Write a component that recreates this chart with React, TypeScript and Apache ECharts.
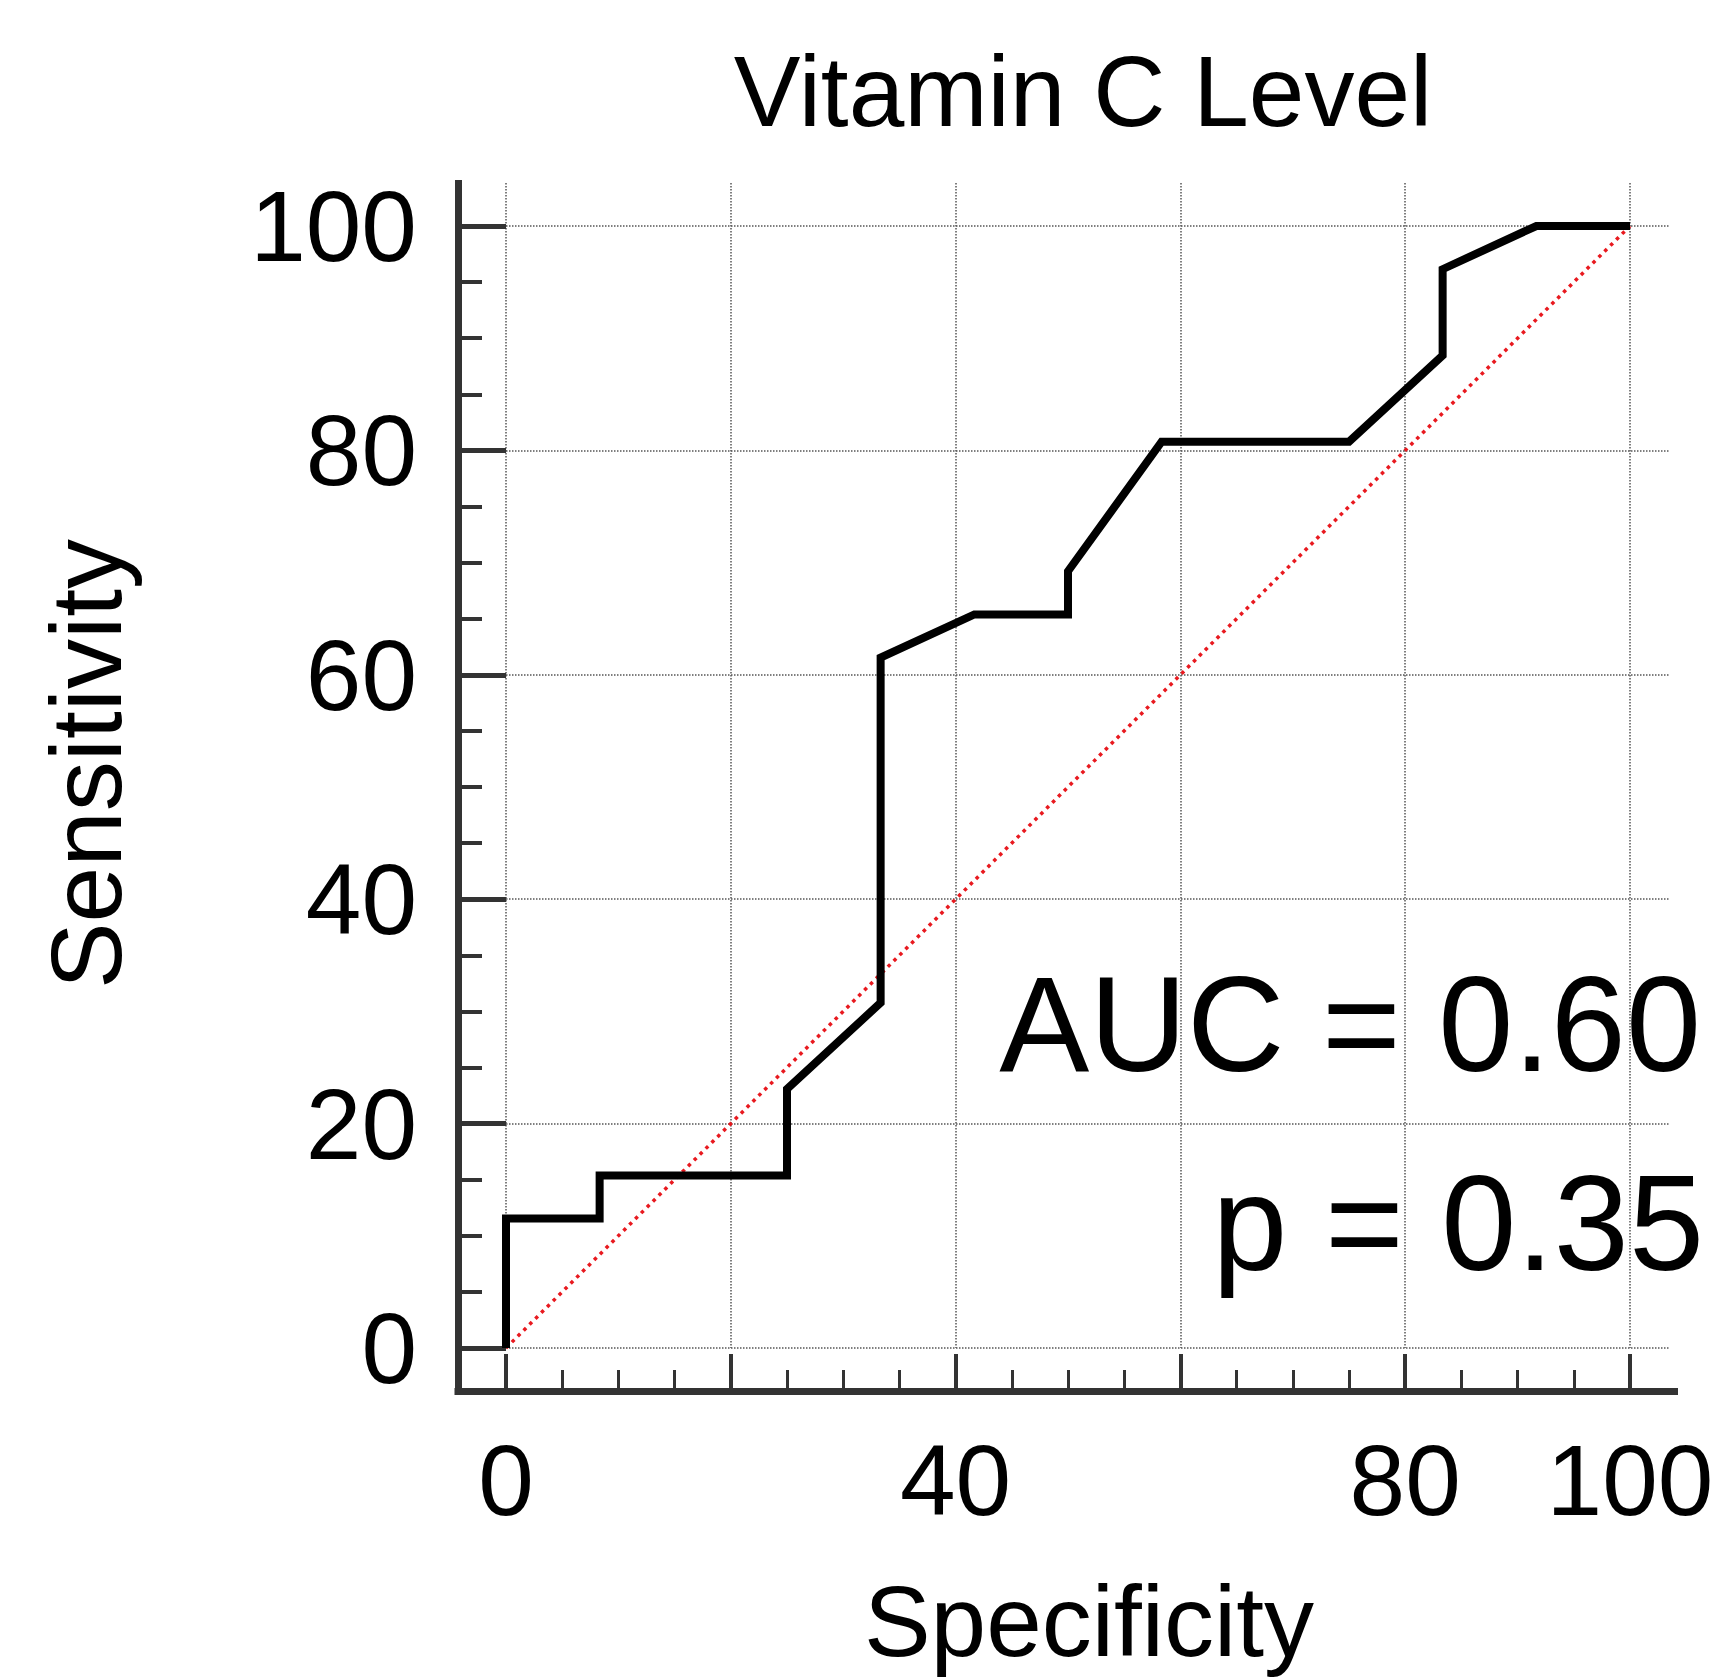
import React, { useEffect, useRef } from "react";
import * as echarts from "echarts";

// ROC curve (x: Specificity, y: Sensitivity, both in %)
const specificity = [0, 0, 8.33, 8.33, 25, 25, 33.33, 33.33, 41.67, 50, 50, 58.33, 75, 83.33, 83.33, 91.67, 100];
const sensitivity = [0, 11.54, 11.54, 15.38, 15.38, 23.08, 30.77, 61.54, 65.38, 65.38, 69.23, 80.77, 80.77, 88.46, 96.15, 100, 100];

// chance (diagonal) reference line
const referenceX = [0, 100];
const referenceY = [0, 100];

// tick labels that are printed
const xLabelledTicks = [0, 40, 80, 100];
const yLabelledTicks = [0, 20, 40, 60, 80, 100];

const titleText = "Vitamin C Level";
const xName = "Specificity";
const yName = "Sensitivity";
const aucText = "AUC = 0.60";
const pText = "p = 0.35";

const FONT = '"Liberation Sans", Arial, Helvetica, sans-serif';
const AXIS_COLOR = "#333";
const GRID_STYLE = { color: "#555", width: 1.5, type: [1.5, 1.5] as number[] };

export default function App() {
  const ref = useRef<HTMLDivElement>(null);

  useEffect(() => {
    if (!ref.current) return;
    const chart = echarts.init(ref.current, null, { renderer: "svg" });

    const rocData = specificity.map((x, i) => [x, sensitivity[i]]);
    const refData = referenceX.map((x, i) => [x, referenceY[i]]);

    const option: any = {
      animation: false,
      backgroundColor: "#ffffff",
      grid: [
        { left: 506, top: 226, width: 1124, height: 1122 },
        { left: 458, top: 183.5, right: 46.5, bottom: 288 },
        { left: 506, top: 183, right: 51, bottom: 331 },
      ],
      xAxis: [
        {
          gridIndex: 0,
          type: "value",
          min: 0,
          max: 100,
          interval: 20,
          position: "bottom",
          offset: 43,
          axisLine: { show: false, onZero: false },
          splitLine: { show: false },
          axisTick: { show: true, inside: true, length: 37, lineStyle: { color: AXIS_COLOR, width: 4 } },
          minorTick: { show: true, splitNumber: 4, length: 21, lineStyle: { color: AXIS_COLOR, width: 3 } },
          axisLabel: {
            show: true,
            interval: 0,
            margin: 39,
            fontSize: 100,
            fontFamily: FONT,
            color: "#000",
            formatter: (v: number) => (xLabelledTicks.includes(v) ? String(v) : ""),
          },
        },
        {
          gridIndex: 1,
          type: "value",
          min: 0,
          max: 1,
          position: "bottom",
          axisLine: { show: true, onZero: false, lineStyle: { color: AXIS_COLOR, width: 7, cap: "square" } },
          axisTick: { show: false },
          axisLabel: { show: false },
          splitLine: { show: false },
        },
        {
          gridIndex: 2,
          type: "value",
          min: 0,
          max: 103.56,
          interval: 20,
          axisLine: { show: false, onZero: false },
          axisTick: { show: false },
          axisLabel: { show: false },
          splitLine: { show: true, showMaxLine: false, lineStyle: GRID_STYLE },
        },
      ],
      yAxis: [
        {
          gridIndex: 0,
          type: "value",
          min: 0,
          max: 100,
          interval: 20,
          position: "left",
          offset: 48,
          axisLine: { show: false, onZero: false },
          splitLine: { show: false },
          axisTick: { show: true, inside: true, length: 48, lineStyle: { color: AXIS_COLOR, width: 5 } },
          minorTick: { show: true, splitNumber: 4, length: 24, lineStyle: { color: AXIS_COLOR, width: 4 } },
          axisLabel: {
            show: true,
            interval: 0,
            margin: 41,
            fontSize: 100,
            fontFamily: FONT,
            color: "#000",
            formatter: (v: number) => (yLabelledTicks.includes(v) ? String(v) : ""),
          },
        },
        {
          gridIndex: 1,
          type: "value",
          min: 0,
          max: 1,
          position: "left",
          axisLine: { show: true, onZero: false, lineStyle: { color: AXIS_COLOR, width: 7, cap: "square" } },
          axisTick: { show: false },
          axisLabel: { show: false },
          splitLine: { show: false },
        },
        {
          gridIndex: 2,
          type: "value",
          min: 0,
          max: 103.83,
          interval: 20,
          axisLine: { show: false, onZero: false },
          axisTick: { show: false },
          axisLabel: { show: false },
          splitLine: { show: true, showMaxLine: false, lineStyle: GRID_STYLE },
        },
      ],
      series: [
        {
          type: "line",
          xAxisIndex: 0,
          yAxisIndex: 0,
          data: refData,
          symbol: "none",
          silent: true,
          z: 3,
          lineStyle: { color: "#e8191f", width: 3.5, type: [3.5, 4.8] },
        },
        {
          type: "line",
          xAxisIndex: 0,
          yAxisIndex: 0,
          data: rocData,
          symbol: "none",
          silent: true,
          z: 4,
          lineStyle: { color: "#000", width: 8, join: "miter" },
        },
      ],
      graphic: [
        {
          type: "text",
          x: 1083,
          y: 91,
          style: {
            text: titleText, fontSize: 100, fontFamily: FONT, fill: "#000",
            align: "center", verticalAlign: "middle", textAlign: "center", textVerticalAlign: "middle",
          },
        },
        {
          type: "text",
          x: 1089,
          y: 1621,
          style: {
            text: xName, fontSize: 100, fontFamily: FONT, fill: "#000",
            align: "center", verticalAlign: "middle", textAlign: "center", textVerticalAlign: "middle",
          },
        },
        {
          type: "text",
          x: 86,
          y: 764,
          rotation: Math.PI / 2,
          style: {
            text: yName, fontSize: 100, fontFamily: FONT, fill: "#000",
            align: "center", verticalAlign: "middle", textAlign: "center", textVerticalAlign: "middle",
          },
        },
        {
          type: "text",
          x: 1701,
          y: 1024,
          z: 10,
          style: {
            text: aucText, fontSize: 135, fontFamily: FONT, fill: "#000",
            align: "right", verticalAlign: "middle", textAlign: "right", textVerticalAlign: "middle",
          },
        },
        {
          type: "text",
          x: 1704,
          y: 1223,
          z: 10,
          style: {
            text: pText, fontSize: 135, fontFamily: FONT, fill: "#000",
            align: "right", verticalAlign: "middle", textAlign: "right", textVerticalAlign: "middle",
          },
        },
      ],
    };

    chart.setOption(option);
    return () => chart.dispose();
  }, []);

  return (
    <div
      ref={ref}
      style={{ position: "absolute", left: 0, top: 0, width: 1721, height: 1679, background: "#fff" }}
    />
  );
}
